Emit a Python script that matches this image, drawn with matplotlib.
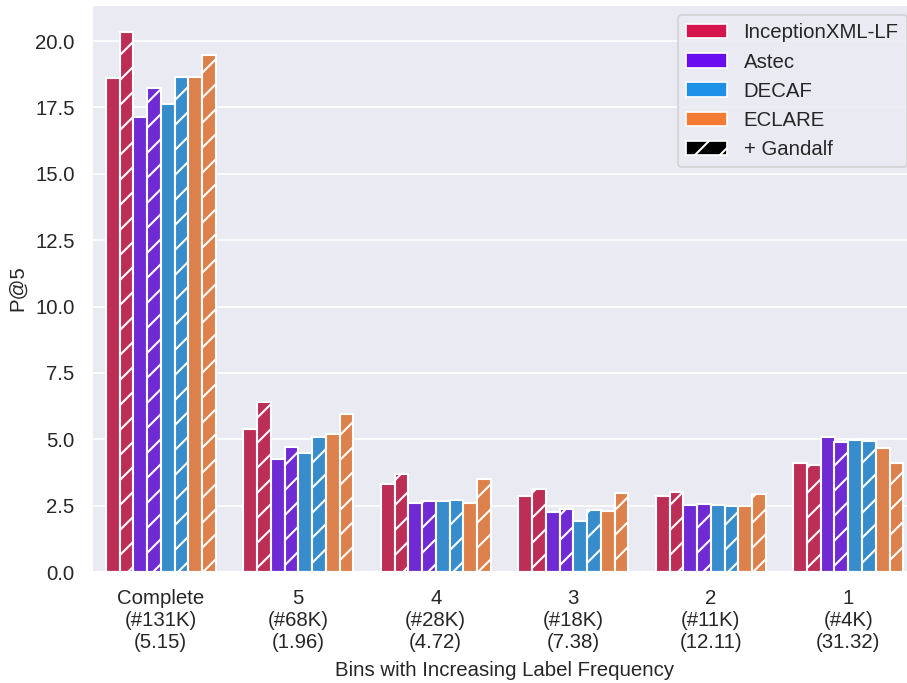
import numpy as np
import matplotlib.pyplot as plt
import seaborn as sns
from matplotlib.patches import Patch

sns.set_theme(style='darkgrid', context='paper')
plt.rcParams['font.family'] = ['Liberation Sans', 'DejaVu Sans']
fs = 9.8

# bins (label frequency) with number of labels and avg. points per label
bins = ['Complete\n(#131K)\n(5.15)', '5\n(#68K)\n(1.96)', '4\n(#28K)\n(4.72)',
        '3\n(#18K)\n(7.38)', '2\n(#11K)\n(12.11)', '1\n(#4K)\n(31.32)']

methods = ['InceptionXML-LF', 'Astec', 'DECAF', 'ECLARE']
colors = ['#D5164C', '#6A0EF0', '#1E90E5', '#F47B33']

# P@5 for each bin, base model and with Gandalf
ixml     = [18.60, 5.40, 3.30, 2.86, 2.88, 4.09]
ixml_g   = [20.34, 6.40, 3.70, 3.13, 3.01, 4.02]
astec    = [17.13, 4.25, 2.59, 2.27, 2.53, 5.08]
astec_g  = [18.23, 4.69, 2.69, 2.37, 2.56, 4.89]
decaf    = [17.64, 4.47, 2.66, 1.93, 2.53, 4.96]
decaf_g  = [18.63, 5.08, 2.71, 2.33, 2.48, 4.95]
eclare   = [18.66, 5.19, 2.61, 2.31, 2.48, 4.67]
eclare_g = [19.49, 5.95, 3.50, 2.97, 2.93, 4.09]

series = [(ixml, ixml_g), (astec, astec_g), (decaf, decaf_g), (eclare, eclare_g)]

fig = plt.figure(figsize=(907/150, 683/150), dpi=150)
ax = fig.add_axes([92/907, 1-572/683, 825/907, 567/683])

x = np.arange(len(bins))
w = 0.1
k = 0
for (plain, gandalf), c in zip(series, colors):
    col = sns.desaturate(c, 0.75)
    ax.bar(x - 0.4 + w*(k+0.5), plain, w, color=col, edgecolor='white', linewidth=1)
    ax.bar(x - 0.4 + w*(k+1.5), gandalf, w, color=col, edgecolor='white', linewidth=1, hatch='//')
    k += 2

ax.set_xlim(-0.5, 5.5)
ax.set_xticks(x)
ax.set_xticklabels(bins, fontsize=fs)
ax.tick_params(axis='y', labelsize=fs)
ax.grid(False, axis='x')
ax.set_ylabel('P@5', fontsize=fs)
ax.set_xlabel('Bins with Increasing Label Frequency', fontsize=fs)

handles = [Patch(facecolor=c, edgecolor='white', label=m) for m, c in zip(methods, colors)]
handles.append(Patch(facecolor='black', edgecolor='white', hatch='//', label='+ Gandalf'))
ax.legend(handles=handles, loc='upper right', fontsize=fs)

fig.savefig('out.png', dpi=150)
